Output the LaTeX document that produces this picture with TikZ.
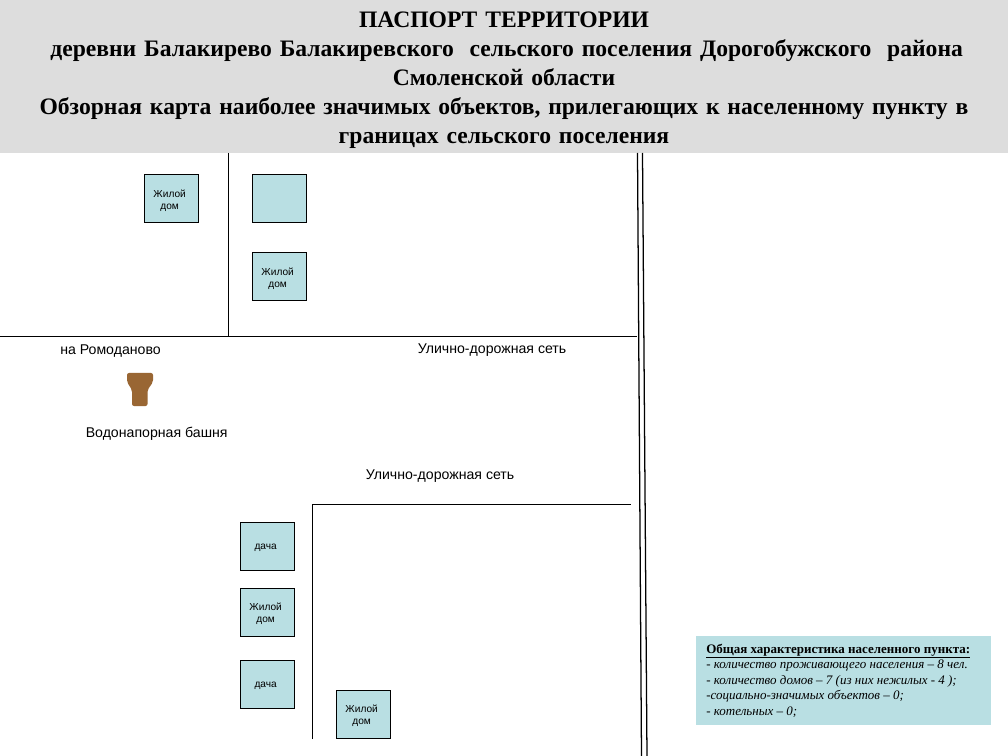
\documentclass[tikz,border=0pt]{standalone}
\usepackage{fontspec}
\setmainfont{Liberation Serif}
\setsansfont{Liberation Sans}
\definecolor{boxfill}{HTML}{B9DFE3}
\definecolor{headfill}{HTML}{DDDDDD}
\definecolor{towerfill}{HTML}{996633}
\tikzset{
  road/.style={draw=black,line width=0.95pt},
  house/.style={draw=black,fill=boxfill,line width=0.75pt,minimum width=40.5pt,minimum height=36pt,inner sep=0pt},
  houselabel/.style={align=center,inner sep=0pt,xshift=-1pt,yshift=-1.6pt,font=\sffamily\fontsize{7.6}{9}\selectfont},
  maplabel/.style={font=\sffamily\fontsize{10.6}{12}\selectfont,inner sep=0pt,text=black},
  headtext/.style={font=\rmfamily\bfseries\fontsize{17.7}{21.75}\selectfont,align=center,inner sep=0pt,text width=750pt},
}
\begin{document}
\begin{tikzpicture}[x=0.75pt,y=-0.75pt]
\useasboundingbox (0,0) rectangle (1008,756);
\fill[white] (0,0) rectangle (1008,756);
\node[fill=headfill,minimum width=756pt,minimum height=114.75pt,inner sep=0pt,anchor=north west] (head) at (0,0) {};
\node[headtext,anchor=center] (title) at (504,80) {ПАСПОРТ ТЕРРИТОРИИ\\
\hspace*{4pt}деревни Балакирево Балакиревского \ сельского поселения Дорогобужского \ района\\
Смоленской области\\
Обзорная карта наиболее значимых объектов, прилегающих к населенному пункту в\\
границах сельского поселения};
% roads
\draw[road] (228.5,153) -- (228.5,336.5);
\draw[road] (0,336.5) -- (637,336.5);
\draw[road] (312.5,739) -- (312.5,504.5) -- (631,504.5);
\draw[road] (637.5,153) -- (641.5,756);
\draw[road] (642.5,153) -- (647,756);
% houses
\node[house,label={[houselabel]center:Жилой\\дом}] (h1) at (171,198.6) {};
\node[house] (h2) at (279,198.6) {};
\node[house,label={[houselabel]center:Жилой\\дом}] (h3) at (279,276.6) {};
\node[house,label={[houselabel]center:дача}] (h4) at (267,546) {};
\node[house,label={[houselabel]center:Жилой\\дом}] (h5) at (267,612) {};
\node[house,label={[houselabel]center:дача}] (h6) at (267,684) {};
\node[house,label={[houselabel]center:Жилой\\дом}] (h7) at (363,714) {};
% tower
\fill[towerfill,rounded corners=1.5pt] (127,373) -- (153,373) -- (153,382) -- (147.5,390) -- (147.5,406) -- (132,406) -- (132,390) -- (127,382) -- cycle;
% labels
\node[maplabel,anchor=west] (l1) at (60,351) {на Ромоданово};
\node[maplabel,anchor=west] (l2) at (417.5,350) {Улично-дорожная сеть};
\node[maplabel,anchor=west] (l3) at (85.5,434) {Водонапорная башня};
\node[maplabel,anchor=west] (l4) at (365.5,476) {Улично-дорожная сеть};
% info
\node[fill=boxfill,minimum width=221.25pt,minimum height=66.75pt,inner sep=0pt,anchor=north west] (info) at (696,636) {};
\node[anchor=north west,inner sep=0pt,align=left,font=\rmfamily\fontsize{9.75}{11.65}\selectfont] (infotext) at (706,643.5) {%
\underline{\textbf{Общая характеристика населенного пункта:}}\\
\textit{- количество проживающего населения – 8 чел.}\\
\textit{- количество домов – 7 (из них нежилых - 4 );}\\
\textit{-социально-значимых объектов – 0;}\\
\textit{- котельных – 0;}};
\end{tikzpicture}
\end{document}
